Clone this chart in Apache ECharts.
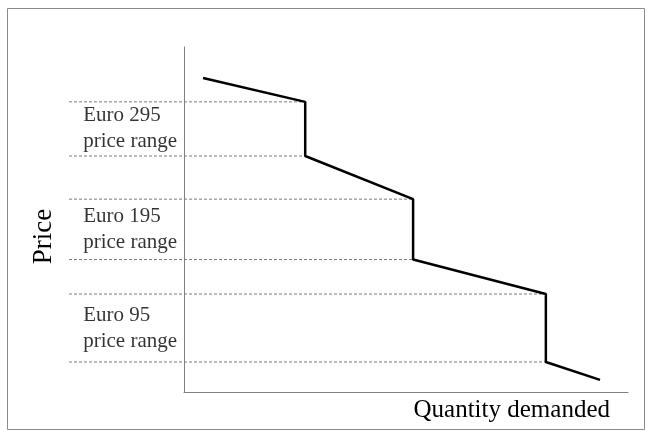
<!DOCTYPE html>
<html>
<head>
<meta charset="utf-8">
<script src="https://cdn.jsdelivr.net/npm/echarts@6/dist/echarts.min.js"></script>
<style>
html,body{margin:0;padding:0;background:#fff;}
#c{width:650px;height:437px;}
</style>
</head>
<body>
<div id="c"></div>
<script>
// Demand curve (quantity, price) in abstract units 0-100
const curveQ = [4.3, 27.3, 27.3, 51.6, 51.6, 81.5, 81.5, 93.7];
const curveP = [91.0, 84.1, 68.4, 55.9, 38.4, 28.4, 8.7, 3.5];
// Price range bounds (dashed guide lines): [price level, quantity where it meets the curve]
const guideP = [84.1, 68.4, 55.9, 38.4, 28.4, 8.7];
const guideQ = [27.3, 27.3, 51.6, 51.6, 81.5, 81.5];
const guideStartQ = -25.9;
// Price range labels
const rangeNames = ['Euro 295', 'Euro 195', 'Euro 95'];
const rangeMidP = [76.25, 47.15, 18.55];
const labelQ = -22.7;
const labelSub = 'price range';
const xName = 'Quantity demanded';
const yName = 'Price';

const serif = 'Liberation Serif, Times New Roman, serif';
const G = {left: 184, top: 47, right: 22, bottom: 45};
const plotW = 650 - G.left - G.right;
const qMax = 100;
// second (wider) grid sharing the same scale, extended left for guide lines and labels
const G2left = G.left + guideStartQ * plotW / qMax;

const chart = echarts.init(document.getElementById('c'), null, {renderer: 'canvas'});

const hiddenAxis = {
  axisLine: {show: false}, axisTick: {show: false}, axisLabel: {show: false}, splitLine: {show: false}
};

const guideSeries = guideP.map((p, i) => ({
  type: 'line',
  xAxisIndex: 1, yAxisIndex: 1,
  data: [[guideStartQ, p], [guideQ[i], p]],
  symbol: 'none',
  silent: true,
  lineStyle: {color: '#7a7a7a', width: 1, type: [3, 2]},
  z: 1
}));

chart.setOption({
  animation: false,
  backgroundColor: '#fff',
  grid: [
    {left: G.left, top: G.top, right: G.right, bottom: G.bottom, containLabel: false},
    {left: G2left, top: G.top, right: G.right, bottom: G.bottom, containLabel: false}
  ],
  xAxis: [{
    type: 'value', min: 0, max: qMax, gridIndex: 0,
    name: xName,
    nameLocation: 'end',
    nameGap: -18,
    nameTextStyle: {fontFamily: serif, fontSize: 25, color: '#000', align: 'right', verticalAlign: 'top', padding: [6, 0, 0, 0]},
    axisLine: {show: true, lineStyle: {color: '#808080', width: 1}},
    axisTick: {show: false}, axisLabel: {show: false}, splitLine: {show: false}
  }, {
    type: 'value', min: guideStartQ, max: qMax, gridIndex: 1, ...hiddenAxis
  }],
  yAxis: [{
    type: 'value', min: 0, max: 100, gridIndex: 0,
    name: yName,
    nameLocation: 'middle',
    nameRotate: 90,
    nameGap: 127,
    nameTextStyle: {fontFamily: serif, fontSize: 27, color: '#000', padding: [0, 34, 0, 0]},
    axisLine: {show: true, onZero: false, lineStyle: {color: '#808080', width: 1}},
    axisTick: {show: false}, axisLabel: {show: false}, splitLine: {show: false}
  }, {
    type: 'value', min: 0, max: 100, gridIndex: 1, ...hiddenAxis
  }],
  graphic: [{
    type: 'rect', silent: true,
    shape: {x: 7.5, y: 8.5, width: 637, height: 421},
    style: {fill: 'none', stroke: '#8a8a8a', lineWidth: 1}
  }],
  series: [
    ...guideSeries,
    {
      type: 'line',
      xAxisIndex: 0, yAxisIndex: 0,
      data: curveQ.map((q, i) => [q, curveP[i]]),
      symbol: 'none',
      clip: false,
      lineStyle: {color: '#000', width: 2.5},
      z: 3
    },
    {
      type: 'scatter',
      xAxisIndex: 1, yAxisIndex: 1,
      data: rangeNames.map((n, i) => ({name: n, value: [labelQ, rangeMidP[i]]})),
      symbolSize: 0,
      label: {
        show: true, position: 'right', distance: 0,
        formatter: p => p.name + '\n' + labelSub,
        fontFamily: serif, fontSize: 21, lineHeight: 26, color: '#000',
        align: 'left', verticalAlign: 'middle'
      },
      z: 4
    }
  ]
});
</script>
</body>
</html>
